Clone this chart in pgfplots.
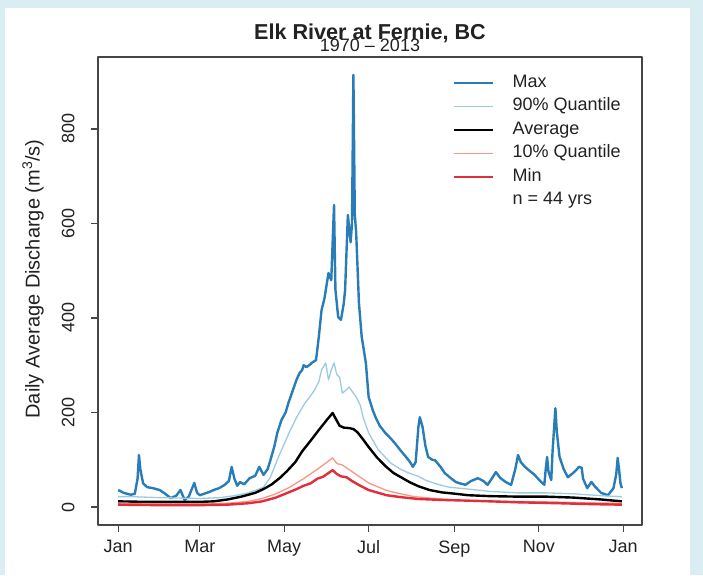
\documentclass[border=0pt]{standalone}
\usepackage{pgfplots}
\pgfplotsset{compat=1.18}
\usepackage{fontspec}
\setmainfont{Liberation Sans}
\definecolor{bgblue}{RGB}{218,237,243}
\definecolor{maxc}{RGB}{40,125,185}
\definecolor{q90c}{RGB}{158,202,225}
\definecolor{q10c}{RGB}{250,150,130}
\definecolor{minc}{RGB}{225,45,60}
\definecolor{axc}{RGB}{70,70,70}
\definecolor{txt}{RGB}{34,34,34}
\pgfplotstableread{
d v
1 36
5 30
10 26
13 28
15 60
16 110
17 80
19 50
22 42
26 40
31 36
35 28
39 19
43 24
46 36
49 15
52 22
56 51
58 30
60 25
63 28
67 32
70 36
74 40
78 47
81 55
83 85
85 60
87 45
89 53
92 48
96 61
100 66
103 85
106 68
109 80
111 99
114 130
116 157
119 184
122 200
124 220
127 245
130 270
132 283
134 290
135 300
137 296
139 300
141 305
144 311
146 360
148 417
150 440
153 495
155 480
156 560
157 639
158 460
160 402
162 396
164 430
165 459
167 618
169 560
170 600
171 914
172 620
173 580
175 432
177 360
180 305
182 233
185 205
187 190
190 172
194 157
198 145
201 135
205 120
209 106
212 95
214 85
216 95
218 170
219 190
221 169
223 130
225 106
228 100
230 99
234 85
237 72
241 62
245 53
248 50
252 47
256 55
261 61
265 55
268 47
271 60
274 74
277 62
281 53
285 47
288 80
290 110
292 95
295 85
299 75
302 68
306 55
309 47
310 80
311 106
312 75
314 57
315 120
317 209
318 160
320 106
323 80
326 63
329 70
332 78
334 85
336 83
337 60
340 40
343 53
346 42
350 30
355 25
359 40
361 70
362 104
363 80
364 51
365 40
}\maxtab
\pgfplotstableread{
d v
1 22
10 22
20 21
30 20
45 19
60 18
75 20
85 24
95 30
100 35
106 42
111 63
116 100
120 127
125 160
130 190
136 220
140 235
143 248
146 265
148 290
150 300
151 305
153 269
155 290
157 305
159 280
161 275
163 241
166 248
168 254
171 241
173 233
176 215
178 190
182 157
189 121
198 93
205 80
211 72
218 65
223 57
232 48
240 42
254 38
270 33
290 30
310 30
330 28
350 24
365 22
}\qnine
\pgfplotstableread{
d v
1 12
20 11
40 11
60 11
70 12
80 16
90 22
100 30
106 38
112 48
118 62
123 76
129 95
134 118
140 140
146 163
152 185
156 199
158 188
161 172
164 168
168 167
171 165
174 158
178 143
182 127
188 105
194 87
200 72
206 62
212 52
218 44
226 36
235 31
245 28
254 25
270 23
290 22
310 22
330 20
350 16
365 12
}\avgtab
\pgfplotstableread{
d v
1 8
30 7
60 7
80 8
95 12
105 18
115 28
125 42
135 60
145 80
152 95
156 104
159 92
163 89
170 75
182 51
195 35
205 28
215 22
230 18
250 14
280 12
310 11
340 9
365 8
}\qone
\pgfplotstableread{
d v
1 5
30 4
60 4
80 5
95 8
105 12
115 20
125 32
130 38
135 45
140 50
145 60
149 64
152 70
156 78
159 70
162 65
166 63
170 55
176 45
182 36
195 25
205 21
218 17
235 15
260 13
290 10
320 8
345 6
365 5
}\mintab
\begin{document}
\begin{tikzpicture}[x=1pt,y=1pt]
\fill[bgblue] (0,0) rectangle (703,575);
\fill[white] (5,0) rectangle (690,567);
\begin{axis}[at={(98pt,50pt)}, anchor=south west, width=544pt, height=468pt, scale only axis,
  xmin=-13.6, xmax=379.6, ymin=-38, ymax=952,
  xtick={1,60,121,182,244,305,366}, xticklabels={Jan,Mar,May,Jul,Sep,Nov,Jan},
  ytick={0,200,400,600,800},
  tick align=outside, major tick length=7pt, xtick pos=bottom, ytick pos=left,
  axis line style={axc, line width=1.3pt}, tick style={axc, line width=1.3pt},
  ticklabel style={font=\fontsize{18}{20}\selectfont, text=txt},
  /pgf/number format/assume math mode=true,
  xticklabel style={yshift=-5pt},
  yticklabel style={xshift=-13pt, rotate=90, anchor=south},
  no markers, line join=round,
  legend style={at={(axis description cs:0.6526,0.9632)}, anchor=north west, draw=none, fill=none,
    inner sep=0pt, row sep=6.5pt, font=\fontsize{18}{20}\selectfont,
    nodes={inner sep=0pt, text height=13pt, text depth=4pt, text=txt},
    /tikz/every odd column/.append style={column sep=18pt}},
  legend cell align=left,
  legend image code/.code={\draw[#1] (0pt,0pt) -- (39pt,0pt);},
]
\addplot[maxc, line width=2.4pt] table[x=d,y=v] {\maxtab};
\addlegendentry{Max}
\addplot[q90c, line width=1.3pt] table[x=d,y=v] {\qnine};
\addlegendentry{90\% Quantile}
\addplot[black, line width=2.4pt] table[x=d,y=v] {\avgtab};
\addlegendentry{Average}
\addplot[q10c, line width=1.3pt] table[x=d,y=v] {\qone};
\addlegendentry{10\% Quantile}
\addplot[minc, line width=2.4pt] table[x=d,y=v] {\mintab};
\addlegendentry{Min}
\addlegendimage{empty legend}
\addlegendentry{n = 44 yrs}
\end{axis}
\node[font=\bfseries\fontsize{21.6}{24}\selectfont, text=txt] at (370,542) {Elk River at Fernie, BC};
\node[font=\fontsize{18}{20}\selectfont, text=txt] at (370,530) {1970 – 2013};
\node[rotate=90, font=\fontsize{20}{22}\selectfont, text=txt] at (33,296) {Daily Average Discharge (m\textsuperscript{3}/s)};
\end{tikzpicture}
\end{document}
